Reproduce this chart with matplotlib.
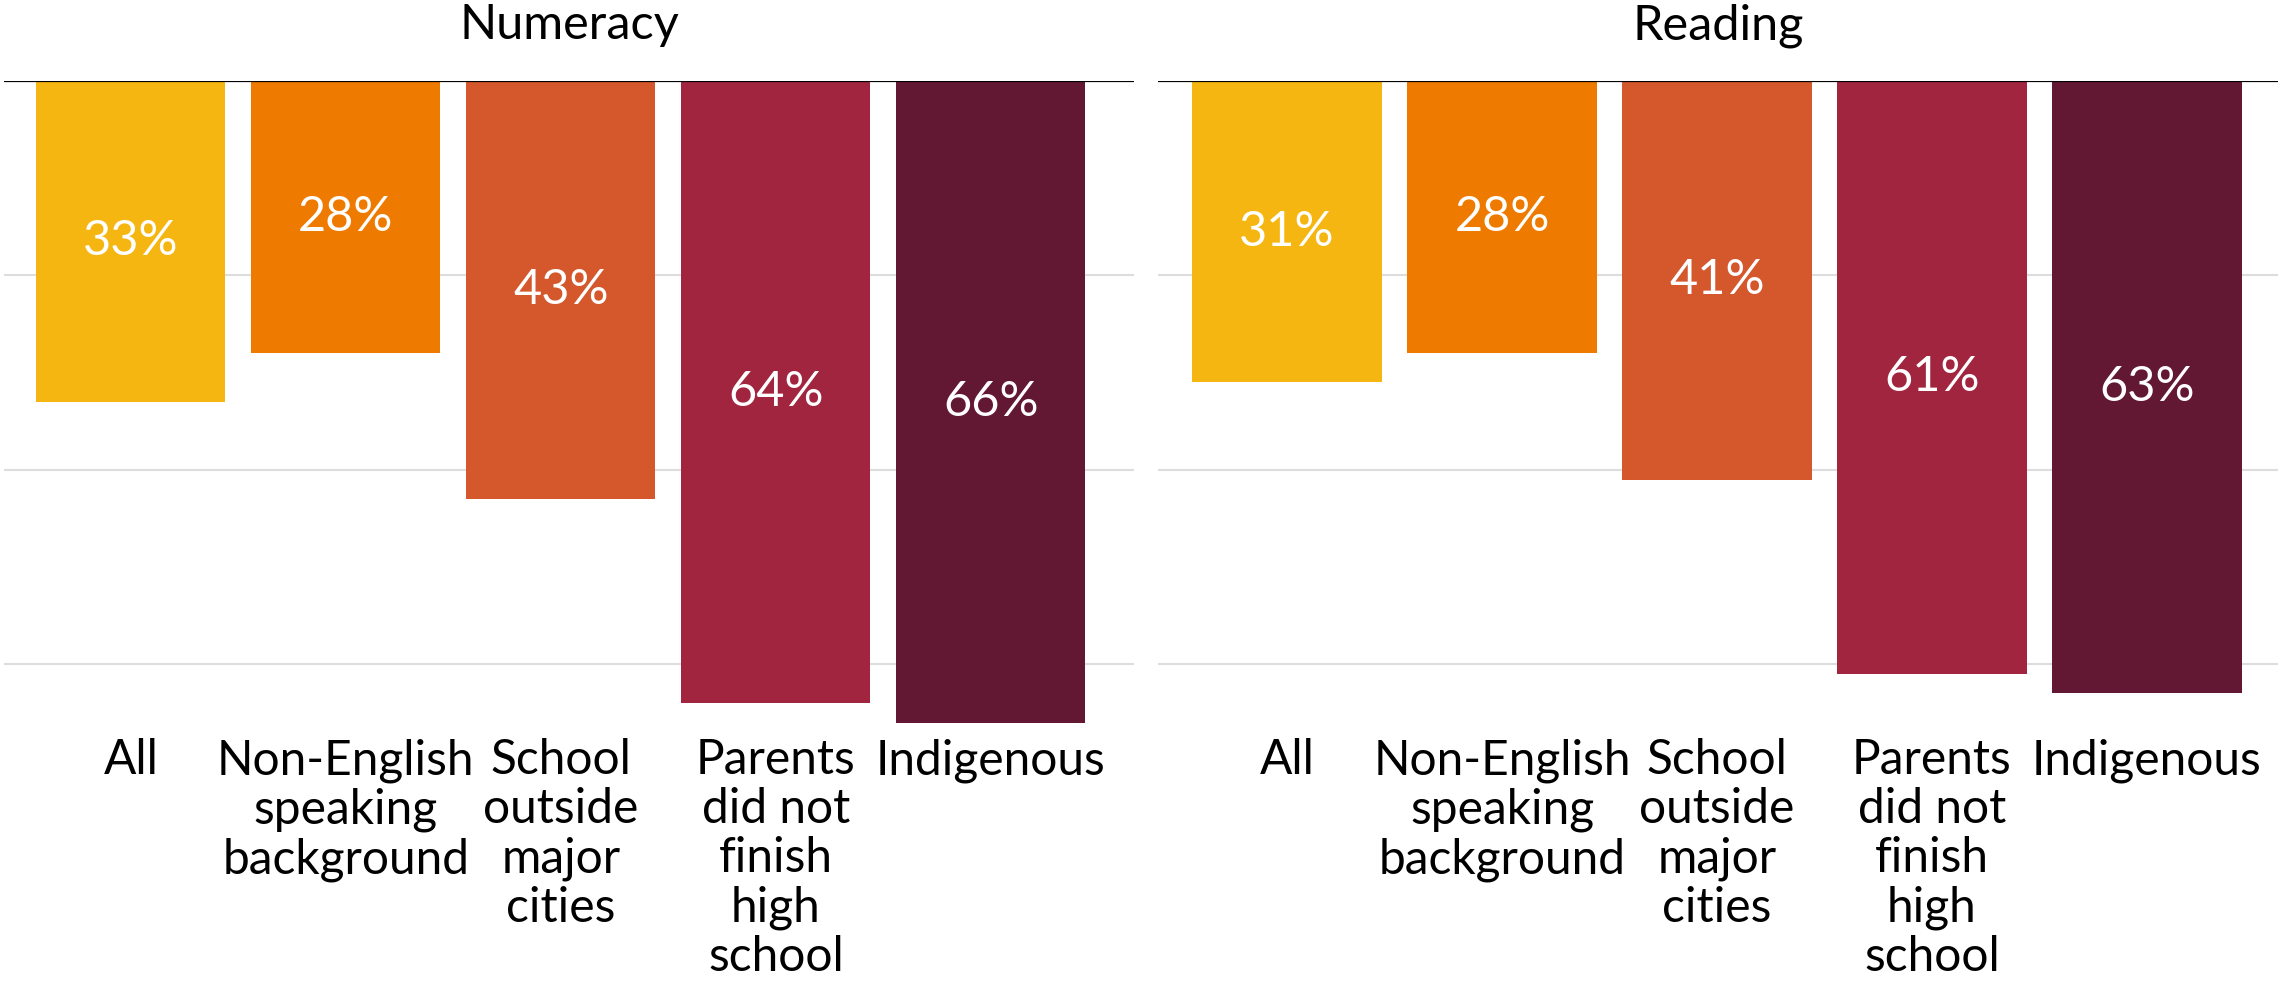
import matplotlib.pyplot as plt
import numpy as np

plt.rcParams['font.family'] = ['Lato', 'DejaVu Sans']

# dados
categorias = ['All', 'Non-English\nspeaking\nbackground', 'School\noutside\nmajor\ncities',
              'Parents\ndid not\nfinish\nhigh\nschool', 'Indigenous']
numeracy = [33, 28, 43, 64, 66]
reading = [31, 28, 41, 61, 63]
paineis = ['Numeracy', 'Reading']
cores = ['#F5B612', '#EE7A00', '#D4582C', '#A1253E', '#621733']

fig = plt.figure(figsize=(22.78, 9.81), dpi=100)
W, H = 2278, 981

# posicoes dos eixos em pixels (esquerda, largura)
eixos = [(4, 1130, -0.59), (1158, 1120, -0.60)]
px_por_pct = 9.72
topo = 81
altura = H - topo

for (x0, largura, xmin), titulo, valores in zip(eixos, paineis, [numeracy, reading]):
    ax = fig.add_axes([x0 / W, 0, largura / W, altura / H])
    x = np.arange(len(categorias))
    ax.bar(x, valores, width=0.88, color=cores, zorder=3)
    ax.set_xlim(xmin, xmin + largura / 215.0)
    ax.set_ylim(altura / px_por_pct, 0)

    ax.set_yticks([20, 40, 60])
    ax.yaxis.grid(True, color='#DDDDDD', linewidth=1.5)
    ax.tick_params(left=False, bottom=False, labelleft=False, labelbottom=False)
    for s in ax.spines.values():
        s.set_visible(False)
    ax.axhline(0, color='black', linewidth=1.6, zorder=4)

    for xi, v in zip(x, valores):
        ax.text(xi, v / 2, f'{v}%', ha='center', va='center', color='white', fontsize=35, zorder=5)
    for xi, c in zip(x, categorias):
        ax.text(xi, 67.6, c, ha='center', va='top', fontsize=34.5, linespacing=1.14)

    ax.set_title(titulo, fontsize=35, pad=30)

plt.savefig('out.png', dpi=100)
